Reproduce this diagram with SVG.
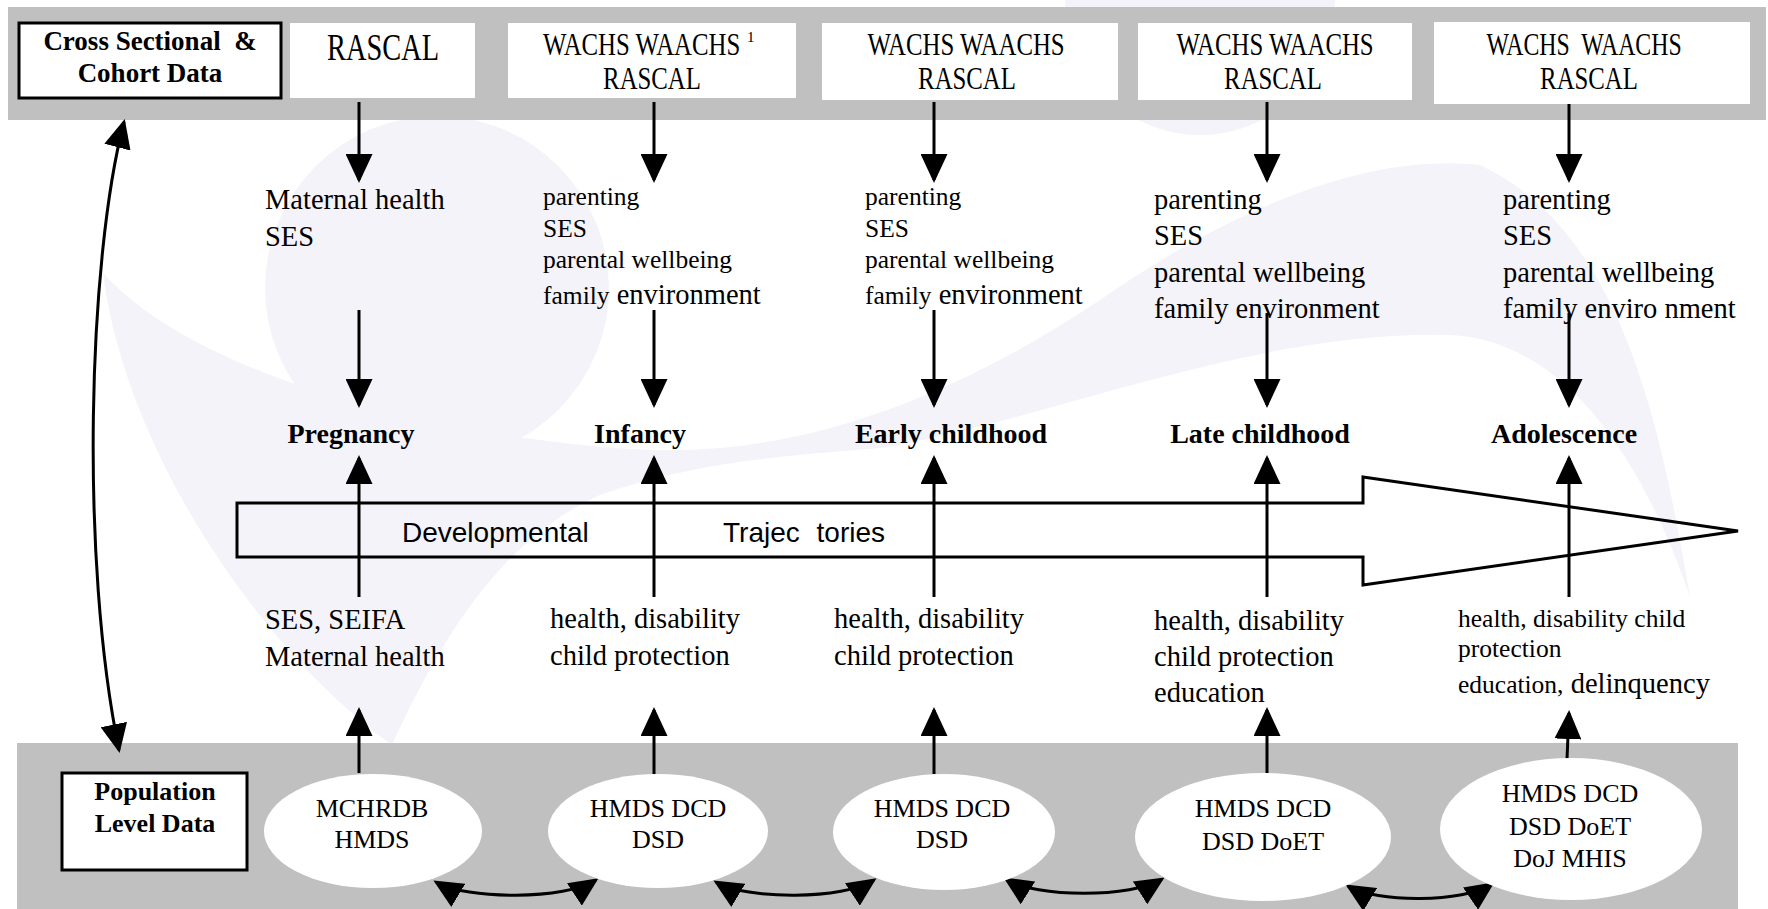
<svg xmlns="http://www.w3.org/2000/svg" width="1768" height="909" viewBox="0 0 1768 909">
<defs>
<style>
.band{fill:#c0c0c0}
.box{fill:#fff}
.fr{fill:#fff;stroke:#000;stroke-width:3}
.wm{fill:#f4f3f9}
text{font-family:"Liberation Serif","Times New Roman",serif;fill:#000}
.b{font-weight:bold}
.c{text-anchor:middle}
.bx{font-size:24.8px}
.m{font-size:28.5px}
.sm{font-size:25.5px}
.lab{font-size:28px;font-weight:bold;text-anchor:middle}
.el{font-size:26px;text-anchor:middle}
.sans{font-family:"Liberation Sans",Arial,sans-serif;font-size:28px}
.ln{fill:none;stroke:#000;stroke-width:3}
.arr{marker-end:url(#ah)}
.dbl{marker-start:url(#ah);marker-end:url(#ah)}
.pre{white-space:pre}
</style>
<marker id="ah" viewBox="0 0 29 27" markerUnits="userSpaceOnUse" markerWidth="29" markerHeight="27" refX="26" refY="13.5" orient="auto-start-reverse">
<path d="M0,0 L29,13.5 L0,27 Z" fill="#000"/>
</marker>
</defs>
<rect width="1768" height="909" fill="#fff"/>
<g id="watermark">
<circle class="wm" cx="437" cy="288" r="172"/>
<circle class="wm" cx="1200" cy="0" r="135"/>
<path class="wm" d="M103 273 C125 450 260 650 392 745 C440 640 500 540 600 495 C700 460 800 455 880 448 C1050 420 1250 330 1450 335 C1560 340 1640 450 1690 597 C1660 420 1620 230 1480 165 C1350 150 1200 230 1100 300 C950 400 800 455 650 450 C450 440 200 380 103 273 Z"/>
</g>
<g id="bands">
<rect class="band" x="8" y="7" width="1758" height="113"/>
<rect class="band" x="17" y="743" width="1721" height="166"/>
</g>
<g id="cross-sectional">
<rect class="fr" x="19" y="23" width="262" height="75"/>
<text class="b c pre" x="150" y="50" font-size="27">Cross Sectional  &amp;</text>
<text class="b c" x="150" y="82" font-size="27">Cohort Data</text>
</g>
<g id="src-pregnancy">
<rect class="box" x="290" y="23" width="185" height="75"/>
<text class="c" transform="translate(383 60) scale(1 1.36)" font-size="28.4">RASCAL</text>
</g>
<g id="src-infancy">
<rect class="box" x="508" y="23" width="288" height="75"/>
<text class="bx" transform="translate(543 55) scale(1 1.25)">WACHS WAACHS</text>
<text x="747" y="42" font-size="15">1</text>
<text class="bx c" transform="translate(652 89) scale(1 1.25)">RASCAL</text>
</g>
<g id="src-early">
<rect class="box" x="822" y="23" width="296" height="77"/>
<text class="bx c" transform="translate(966 55) scale(1 1.25)">WACHS WAACHS</text>
<text class="bx c" transform="translate(967 89) scale(1 1.25)">RASCAL</text>
</g>
<g id="src-late">
<rect class="box" x="1138" y="23" width="274" height="77"/>
<text class="bx c" transform="translate(1275 55) scale(1 1.25)">WACHS WAACHS</text>
<text class="bx c" transform="translate(1273 89) scale(1 1.25)">RASCAL</text>
</g>
<g id="src-adolescence">
<rect class="box" x="1434" y="22" width="316" height="82"/>
<text class="bx c pre" transform="translate(1584 55) scale(0.96 1.25)">WACHS  WAACHS</text>
<text class="bx c" transform="translate(1589 89) scale(1 1.25)">RASCAL</text>
</g>
<g id="trajectory-arrow">
<path class="ln" d="M237 503 L1363 503 L1363 477 L1738 531 L1363 585 L1363 557 L237 557 Z"/>
<text class="sans" x="402" y="542">Developmental</text>
<text class="sans" x="723" y="542">Trajec<tspan dx="9"> tories</tspan></text>
</g>
<g id="connectors">
<path class="ln dbl" d="M124 122 C88 260 80 560 119 750"/>
<line class="ln arr" x1="359" y1="102" x2="359" y2="180"/>
<line class="ln arr" x1="654" y1="102" x2="654" y2="180"/>
<line class="ln arr" x1="934" y1="102" x2="934" y2="180"/>
<line class="ln arr" x1="1267" y1="102" x2="1267" y2="180"/>
<line class="ln arr" x1="1569" y1="104" x2="1569" y2="180"/>
<line class="ln arr" x1="359" y1="310" x2="359" y2="405"/>
<line class="ln arr" x1="654" y1="310" x2="654" y2="405"/>
<line class="ln arr" x1="934" y1="310" x2="934" y2="405"/>
<line class="ln arr" x1="1267" y1="313" x2="1267" y2="405"/>
<line class="ln arr" x1="1569" y1="313" x2="1569" y2="405"/>
<line class="ln arr" x1="359" y1="597" x2="359" y2="458"/>
<line class="ln arr" x1="654" y1="597" x2="654" y2="458"/>
<line class="ln arr" x1="934" y1="597" x2="934" y2="458"/>
<line class="ln arr" x1="1267" y1="597" x2="1267" y2="458"/>
<line class="ln arr" x1="1569" y1="597" x2="1569" y2="458"/>
<line class="ln arr" x1="359" y1="773" x2="359" y2="710"/>
<line class="ln arr" x1="654" y1="774" x2="654" y2="710"/>
<line class="ln arr" x1="934" y1="774" x2="934" y2="710"/>
<line class="ln arr" x1="1267" y1="773" x2="1267" y2="710"/>
<line class="ln arr" x1="1567" y1="759" x2="1569" y2="713"/>
<path class="ln dbl" d="M436 882 C466 900 566 900 596 880"/>
<path class="ln dbl" d="M716 882 C746 900 844 900 874 880"/>
<path class="ln dbl" d="M1006 879 C1036 898 1132 898 1162 879"/>
<path class="ln dbl" d="M1348 886 C1376 903 1464 903 1492 884"/>
</g>
<g id="factors-pregnancy">
<text class="m" x="265" y="209">Maternal health</text>
<text class="m" x="265" y="246">SES</text>
</g>
<g id="factors-infancy">
<text class="sm" x="543" y="205">parenting</text>
<text class="sm" x="543" y="237">SES</text>
<text class="sm" x="543" y="268">parental wellbeing</text>
<text class="sm" x="543" y="304">family<tspan font-size="28.5"> environment</tspan></text>
</g>
<g id="factors-early">
<text class="sm" x="865" y="205">parenting</text>
<text class="sm" x="865" y="237">SES</text>
<text class="sm" x="865" y="268">parental wellbeing</text>
<text class="sm" x="865" y="304">family<tspan font-size="28.5"> environment</tspan></text>
</g>
<g id="factors-late">
<text class="m" x="1154" y="209">parenting</text>
<text class="m" x="1154" y="245">SES</text>
<text class="m" x="1154" y="282">parental wellbeing</text>
<text class="m" x="1154" y="318">family environment</text>
</g>
<g id="factors-adolescence">
<text class="m" x="1503" y="209">parenting</text>
<text class="m" x="1503" y="245">SES</text>
<text class="m" x="1503" y="282">parental wellbeing</text>
<text class="m" x="1503" y="318">family enviro nment</text>
</g>
<g id="stage-pregnancy"><text class="lab" x="351" y="443">Pregnancy</text></g>
<g id="stage-infancy"><text class="lab" x="640" y="443">Infancy</text></g>
<g id="stage-early"><text class="lab" x="951" y="443">Early childhood</text></g>
<g id="stage-late"><text class="lab" x="1260" y="443">Late childhood</text></g>
<g id="stage-adolescence"><text class="lab" x="1564" y="443">Adolescence</text></g>
<g id="outcomes-pregnancy">
<text class="m" x="265" y="629">SES, SEIFA</text>
<text class="m" x="265" y="666">Maternal health</text>
</g>
<g id="outcomes-infancy">
<text class="m" x="550" y="628">health, disability</text>
<text class="m" x="550" y="665">child protection</text>
</g>
<g id="outcomes-early">
<text class="m" x="834" y="628">health, disability</text>
<text class="m" x="834" y="665">child protection</text>
</g>
<g id="outcomes-late">
<text class="m" x="1154" y="630">health, disability</text>
<text class="m" x="1154" y="666">child protection</text>
<text class="m" x="1154" y="702">education</text>
</g>
<g id="outcomes-adolescence">
<text class="sm" x="1458" y="627">health, disability child</text>
<text class="sm" x="1458" y="657">protection</text>
<text class="sm" x="1458" y="693">education,<tspan font-size="28.5"> delinquency</tspan></text>
</g>
<g id="population">
<rect class="fr" x="62" y="773" width="185" height="97"/>
<text class="b c" x="155" y="800" font-size="26">Population</text>
<text class="b c" x="155" y="832" font-size="26">Level Data</text>
</g>
<g id="pop-pregnancy">
<ellipse class="box" cx="373" cy="831" rx="109" ry="57"/>
<text class="el" x="372" y="817">MCHRDB</text>
<text class="el" x="372" y="848">HMDS</text>
</g>
<g id="pop-infancy">
<ellipse class="box" cx="658" cy="831" rx="110" ry="57"/>
<text class="el" x="658" y="817">HMDS DCD</text>
<text class="el" x="658" y="848">DSD</text>
</g>
<g id="pop-early">
<ellipse class="box" cx="944" cy="832" rx="111" ry="58"/>
<text class="el" x="942" y="817">HMDS DCD</text>
<text class="el" x="942" y="848">DSD</text>
</g>
<g id="pop-late">
<ellipse class="box" cx="1263" cy="837" rx="128" ry="64"/>
<text class="el" x="1263" y="817">HMDS DCD</text>
<text class="el" x="1263" y="850">DSD DoET</text>
</g>
<g id="pop-adolescence">
<ellipse class="box" cx="1571" cy="829" rx="131" ry="71"/>
<text class="el" x="1570" y="802">HMDS DCD</text>
<text class="el" x="1570" y="835">DSD DoET</text>
<text class="el" x="1570" y="867">DoJ MHIS</text>
</g>
</svg>
